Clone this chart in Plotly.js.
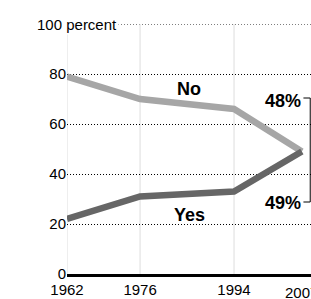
<!DOCTYPE html>
<html>
<head>
<meta charset="utf-8">
<script src="https://cdn.plot.ly/plotly-3.0.1.min.js"></script>
<style>html,body{margin:0;padding:0;background:#fff;}#chart{width:311px;height:299px;}</style>
</head>
<body>
<div id="chart"></div>
<script>
var years = [1962, 1976, 1994, 2007];
var yearLabels = ["1962", "1976", "1994", "2007"];
var noValues = [79, 70, 66, 49];
var yesValues = [22, 31, 33, 49];
var yTicks = [0, 20, 40, 60, 80, 100];
var yTickLabels = ["0", "20", "40", "60", "80", ""];
var seriesNames = ["No", "Yes"];
var endLabels = ["48%", "49%"];

var FONT = "Liberation Sans, Arial, Helvetica, sans-serif";
var DOTS = "1px,2px";

var traces = [
  {x: years, y: noValues, name: seriesNames[0], mode: "lines", line: {color: "#a6a6a6", width: 6.5}},
  {x: years, y: yesValues, name: seriesNames[1], mode: "lines", line: {color: "#666666", width: 6.5}}
];

var shapes = [];
for (var i = 0; i < years.length - 1; i++) {
  shapes.push({type: "line", xref: "x", yref: "y", x0: years[i], x1: years[i], y0: 0, y1: 100,
    line: {color: "#dddddd", width: 1}, layer: "below"});
}
shapes.push({type: "line", xref: "paper", yref: "y", x0: 0, x1: 1, y0: 100, y1: 100,
  line: {color: "#000", width: 1, dash: DOTS}, layer: "below"});
var bx = 2008.6;
shapes.push({type: "line", xref: "x", yref: "y", x0: bx, x1: bx, y0: 28.8, y1: 70.4, line: {color: "#000", width: 1}});
shapes.push({type: "line", xref: "x", yref: "y", x0: 2007.3, x1: bx, y0: 70.4, y1: 70.4, line: {color: "#000", width: 1}});
shapes.push({type: "line", xref: "x", yref: "y", x0: 2007.3, x1: bx, y0: 28.8, y1: 28.8, line: {color: "#000", width: 1}});

var annotations = [
  {xref: "paper", yref: "y", x: 0, y: 100, xanchor: "left", yanchor: "middle", xshift: -32,
   text: "100 percent", showarrow: false, bgcolor: "#fff", borderpad: 1,
   font: {family: FONT, size: 15, color: "#000"}},
  {xref: "x", yref: "paper", x: years[3], y: 0, yanchor: "middle", yshift: -18, text: yearLabels[3], showarrow: false,
   font: {family: FONT, size: 15, color: "#000"}},
  {xref: "x", yref: "y", x: 1985.4, y: 74, text: "<b>" + seriesNames[0] + "</b>", showarrow: false,
   font: {family: FONT, size: 18, color: "#000"}},
  {xref: "x", yref: "y", x: 1985.4, y: 23.6, text: "<b>" + seriesNames[1] + "</b>", showarrow: false,
   font: {family: FONT, size: 18, color: "#000"}},
  {xref: "x", yref: "y", x: 2007.3, y: 69.3, xanchor: "right", text: "<b>" + endLabels[0] + "</b>", showarrow: false,
   font: {family: FONT, size: 18, color: "#000"}},
  {xref: "x", yref: "y", x: 2007.3, y: 28.4, xanchor: "right", text: "<b>" + endLabels[1] + "</b>", showarrow: false,
   font: {family: FONT, size: 18, color: "#000"}}
];

var layout = {
  width: 311, height: 299,
  margin: {l: 67, r: 0, t: 24, b: 25, pad: 0},
  paper_bgcolor: "#fff", plot_bgcolor: "#fff",
  showlegend: false,
  font: {family: FONT, size: 15, color: "#000"},
  xaxis: {range: [1962, 2008.75], tickvals: years.slice(0, 3), ticktext: yearLabels.slice(0, 3), showgrid: false, zeroline: false,
    showline: true, linecolor: "#000", linewidth: 3, ticks: "",
    tickfont: {family: FONT, size: 15, color: "#000"}},
  yaxis: {range: [0, 100], tickvals: yTicks, ticktext: yTickLabels, showgrid: true, gridcolor: "#000",
    griddash: DOTS, gridwidth: 1, zeroline: false, showline: false, ticks: "",
    tickfont: {family: FONT, size: 15, color: "#000"}},
  shapes: shapes,
  annotations: annotations
};

Plotly.newPlot("chart", traces, layout, {displayModeBar: false, staticPlot: true});
</script>
</body>
</html>
